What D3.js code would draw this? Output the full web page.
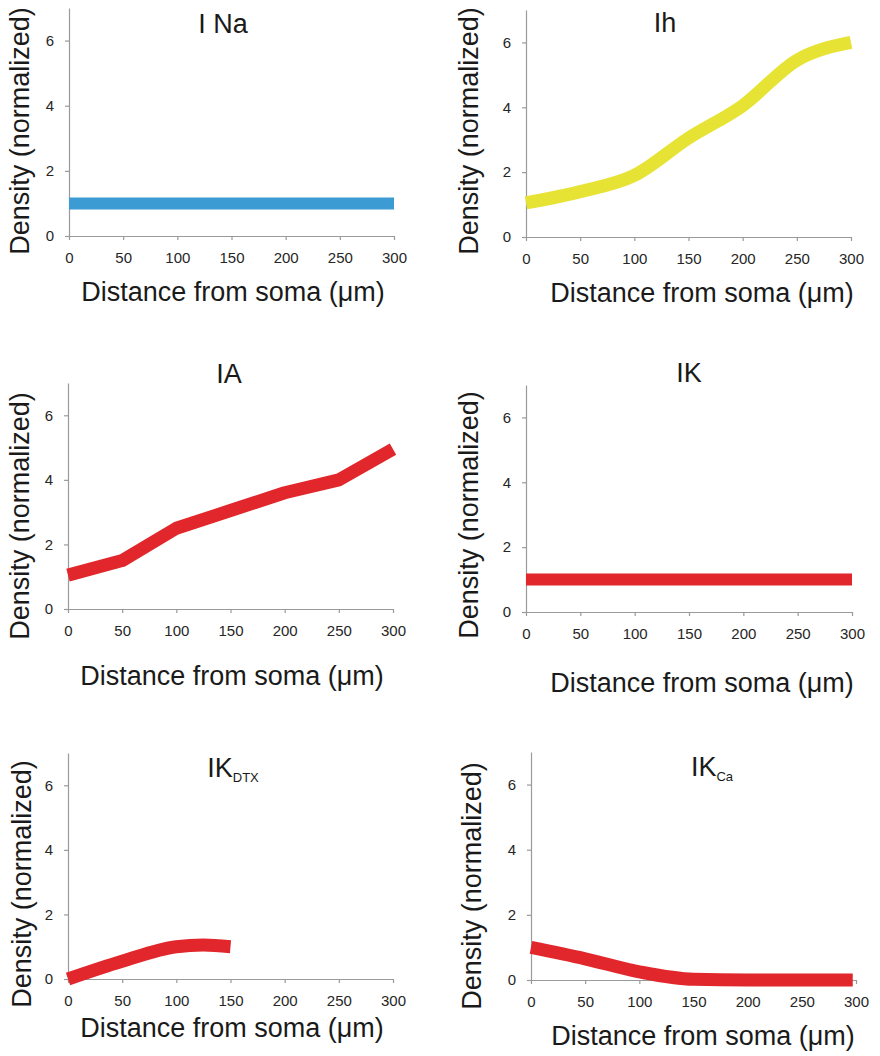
<!DOCTYPE html>
<html>
<head>
<meta charset="utf-8">
<script src="https://cdn.jsdelivr.net/npm/d3@7"></script>
<style>
  body { margin: 0; background: #fff; }
  text { font-family: "Liberation Sans", Arial, sans-serif; }
</style>
</head>
<body>
<div id="chart"></div>
<script>
var w = 880;
var h = 1056;

// data
var xTicks = [0, 50, 100, 150, 200, 250, 300];
var yTicks = [0, 2, 4, 6];

var naX = [0, 300];
var naY = [1, 1];

var ihX = [0, 50, 100, 150, 200, 250, 300];
var ihY = [1.05, 1.4, 1.9, 3.05, 4.05, 5.45, 6.0];

var iaX = [0, 50, 100, 150, 200, 250, 300];
var iaY = [1.05, 1.5, 2.5, 3.05, 3.6, 4.0, 4.95];

var ikX = [0, 300];
var ikY = [1, 1];

var dtxX = [0, 50, 100, 125, 150];
var dtxY = [0.0, 0.55, 1.0, 1.05, 1.0];

var caX = [0, 50, 100, 150, 200, 250, 297];
var caY = [1.0, 0.65, 0.25, 0.02, 0, 0, 0];

var panels = [
  {title: "I Na", sub: "", xs: naX, ys: naY, color: "#3d9bd4", curve: d3.curveLinear, sw: 12,
   x0: 69, x1: 394, y0: 236, top: 8, tx: 223, ty: 33, ylx: 29, yly: 131, xlx: 233, xly: 301},
  {title: "Ih", sub: "", xs: ihX, ys: ihY, color: "#e6e335", curve: d3.curveMonotoneX, sw: 13,
   x0: 526, x1: 851, y0: 237, top: 10, tx: 665, ty: 32, ylx: 478, yly: 131, xlx: 702, xly: 302},
  {title: "IA", sub: "", xs: iaX, ys: iaY, color: "#e1272b", curve: d3.curveLinear, sw: 13,
   x0: 68, x1: 393, y0: 609, top: 383, tx: 229, ty: 383, ylx: 29, yly: 516, xlx: 232, xly: 685},
  {title: "IK", sub: "", xs: ikX, ys: ikY, color: "#e1272b", curve: d3.curveLinear, sw: 12,
   x0: 526, x1: 852, y0: 612, top: 385, tx: 689, ty: 382, ylx: 478, yly: 515, xlx: 702, xly: 692},
  {title: "IK", sub: "DTX", xs: dtxX, ys: dtxY, color: "#e1272b", curve: d3.curveMonotoneX, sw: 13,
   x0: 68, x1: 393, y0: 979, top: 753, tx: 233, ty: 777, ylx: 31, yly: 884, xlx: 232, xly: 1037},
  {title: "IK", sub: "Ca", xs: caX, ys: caY, color: "#e1272b", curve: d3.curveMonotoneX, sw: 13,
   x0: 531, x1: 856, y0: 980, top: 752, tx: 712, ty: 776, ylx: 481, yly: 886, xlx: 703, xly: 1045}
];

var svg = d3.select("#chart").append("svg")
            .attr("width", w)
            .attr("height", h);

panels.forEach(function(p) {
  var x = d3.scaleLinear().domain([0, 300]).range([p.x0, p.x1]);
  var y = d3.scaleLinear().domain([0, 7]).range([p.y0, p.top]);

  var g = svg.append("g");

  // axes
  var xAxis = d3.axisBottom(x).tickValues(xTicks).tickFormat(d3.format("d"))
                .tickSizeInner(4).tickSizeOuter(0).tickPadding(12);
  var yAxis = d3.axisLeft(y).tickValues(yTicks).tickFormat(d3.format("d"))
                .tickSizeInner(4).tickSizeOuter(0).tickPadding(11);

  var gx = g.append("g").attr("transform", "translate(0," + p.y0 + ")").call(xAxis);
  var gy = g.append("g").attr("transform", "translate(" + p.x0 + ",0)").call(yAxis);

  [gx, gy].forEach(function(a) {
    a.select(".domain").attr("stroke", "#9a9a9a").attr("stroke-width", 1.2);
    a.selectAll(".tick line").attr("stroke", "#9a9a9a").attr("stroke-width", 1.2);
    a.selectAll(".tick text")
     .attr("fill", "#262626")
     .style("font-size", "15px")
     .style("font-family", "Liberation Sans, Arial, sans-serif");
  });

  // curve
  var pts = p.xs.map(function(d, i) { return [d, p.ys[i]]; });
  var line = d3.line()
               .x(function(d) { return x(d[0]); })
               .y(function(d) { return y(d[1]); })
               .curve(p.curve);

  g.append("path")
   .datum(pts)
   .attr("d", line)
   .attr("fill", "none")
   .attr("stroke", p.color)
   .attr("stroke-width", p.sw)
   .attr("stroke-linecap", "butt")
   .attr("stroke-linejoin", "round");

  // title
  var t = g.append("text")
           .attr("x", p.tx)
           .attr("y", p.ty)
           .attr("text-anchor", "middle")
           .attr("fill", "#1a1a1a")
           .style("font-size", "27px");
  t.append("tspan").text(p.title);
  if (p.sub) {
    t.append("tspan").text(p.sub)
     .attr("dy", 5)
     .style("font-size", "13px");
  }

  // axis titles
  g.append("text")
   .attr("x", p.xlx)
   .attr("y", p.xly)
   .attr("text-anchor", "middle")
   .attr("fill", "#1a1a1a")
   .style("font-size", "27px")
   .text("Distance from soma (\u03bcm)");

  g.append("text")
   .attr("transform", "translate(" + p.ylx + "," + p.yly + ") rotate(-90)")
   .attr("text-anchor", "middle")
   .attr("fill", "#1a1a1a")
   .style("font-size", "27px")
   .text("Density (normalized)");
});
</script>
</body>
</html>
